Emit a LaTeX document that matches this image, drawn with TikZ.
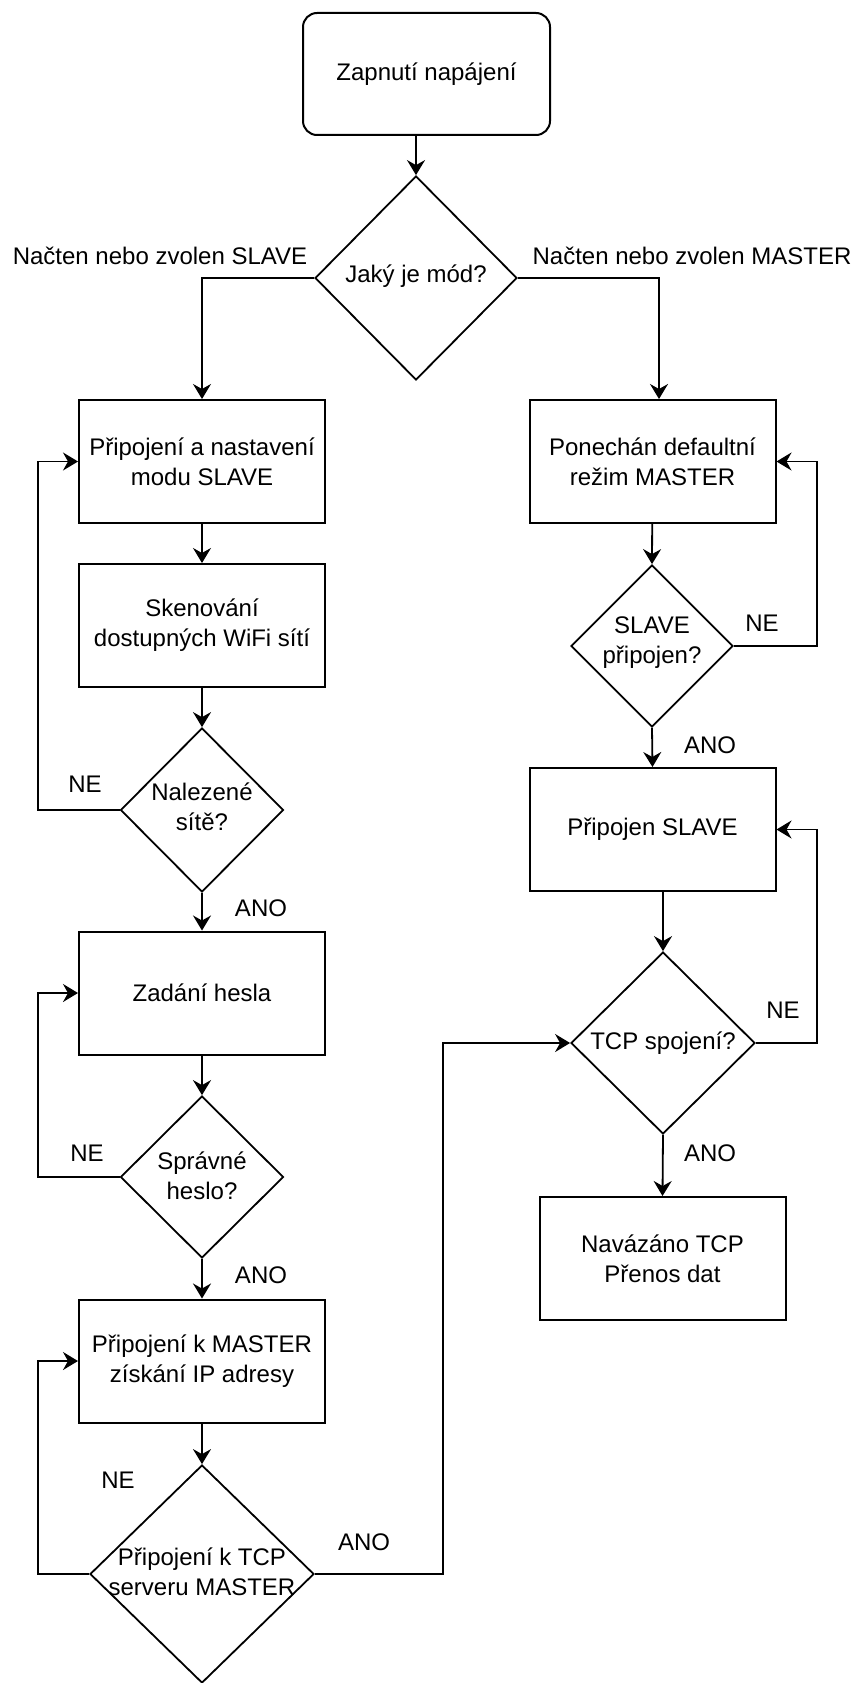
\documentclass[tikz,border=0pt]{standalone}
\usepackage{fontspec}
\setmainfont{Liberation Sans}
\usetikzlibrary{arrows.meta,shapes.geometric}
\newcommand{\fsz}{\fontsize{24}{30}\selectfont}
\begin{document}
\begin{tikzpicture}[x=1pt,y=-1pt,
  boxnode/.style={draw, line width=2pt, minimum width=246pt, minimum height=123pt, inner sep=0pt, align=center, font=\fsz},
  dianode/.style={draw, diamond, line width=1.8pt, inner sep=0pt},
  txt/.style={align=center, font=\fsz, inner sep=0pt},
  conn/.style={line width=1.8pt, -{Stealth[length=15pt,width=18pt,inset=5pt]}},
  plain/.style={line width=1.8pt}
]
\useasboundingbox[fill=white] (0,0) rectangle (857,1683);

% start
\node[boxnode, rounded corners=14pt, minimum width=247pt, minimum height=122pt] (start) at (426.5,74) {Zapnutí napájení};

% mode diamond
\node[dianode, minimum width=202pt, minimum height=204pt] (d1) at (416,278) {};
\node[txt] (d1t) at (416,276) {Jaký je mód?};
\node[txt] (lslave) at (160,256) {Načten nebo zvolen SLAVE};
\node[txt] (lmaster) at (692,256) {Načten nebo zvolen MASTER};

% left column
\node[boxnode] (b1) at (202,461.5) {Připojení a nastavení\\modu SLAVE};
\node[boxnode] (b2) at (202,625.5) {Skenování\\dostupných WiFi sítí};
\node[dianode, minimum width=163pt, minimum height=164pt] (d2) at (202,810) {};
\node[txt] (d2t) at (202,807) {Nalezené\\sítě?};
\node[boxnode] (b3) at (202,993) {Zadání hesla};
\node[dianode, minimum width=163pt, minimum height=162pt] (d3) at (202,1177) {};
\node[txt] (d3t) at (202,1176) {Správné\\heslo?};
\node[boxnode] (b4) at (202,1361) {Připojení k MASTER\\získání IP adresy};
\node[dianode, minimum width=224pt, minimum height=218pt] (d4) at (202,1574) {};
\node[txt] (d4t) at (202,1572) {Připojení k TCP\\serveru MASTER};

% right column
\node[boxnode] (r1) at (652.5,461.5) {Ponechán defaultní\\režim MASTER};
\node[dianode, minimum width=162pt, minimum height=162pt] (d5) at (652,646) {};
\node[txt] (d5t) at (652,643) {SLAVE\\připojen?};
\node[boxnode] (r2) at (652.5,829.5) {Připojen SLAVE};
\node[dianode, minimum width=184pt, minimum height=182pt] (d6) at (663,1043) {};
\node[txt] (d6t) at (663,1043) {TCP spojení?};
\node[boxnode] (r3) at (662.5,1258.5) {Navázáno TCP\\Přenos dat};

% loop columns
\coordinate (lx) at (38,0);
\coordinate (rx) at (817,0);
\coordinate (mx) at (443,0);

% labels
\node[txt] (ne2) at (85,784) {NE};
\node[txt] (ano2) at (261,908) {ANO};
\node[txt] (ne3) at (87,1153) {NE};
\node[txt] (ano3) at (261,1275) {ANO};
\node[txt] (ne4) at (118,1480) {NE};
\node[txt] (ano4) at (364,1542) {ANO};
\node[txt] (ne5) at (762,623) {NE};
\node[txt] (ano5) at (710,745) {ANO};
\node[txt] (ne6) at (783,1010) {NE};
\node[txt] (ano6) at (710,1153) {ANO};

% connectors
\draw[conn] (start.south -| d1.north) -- (d1.north);
\draw[conn] (d1.west) -| (b1.north);
\draw[conn] (d1.east) -| ([xshift=6.5pt]r1.north);

\draw[conn] (b1) -- (b2);
\draw[conn] (b2) -- (d2.north);
\draw[conn] (d2.west) -- (d2.west -| lx) |- (b1.west);
\draw[conn] (d2.south) -- (b3.north);
\draw[conn] (b3) -- (d3.north);
\draw[conn] (d3.west) -- (d3.west -| lx) |- (b3.west);
\draw[conn] (d3.south) -- (b4.north);
\draw[conn] (b4) -- (d4.north);
\draw[conn] (d4.west) -- (d4.west -| lx) |- (b4.west);
\draw[conn] (d4.east) -- (d4.east -| mx) |- (d6.west);

\draw[conn] (r1) -- (d5.north);
\draw[conn] (d5.east) -- (d5.east -| rx) |- (r1.east);
\draw[conn] (d5.south) -- (r2.north);
\draw[conn] (r2.south -| d6.north) -- (d6.north);
\draw[conn] (d6.east) -- (d6.east -| rx) |- (r2.east);
\draw[conn] (d6.south) -- (r3.north);
\end{tikzpicture}
\end{document}
